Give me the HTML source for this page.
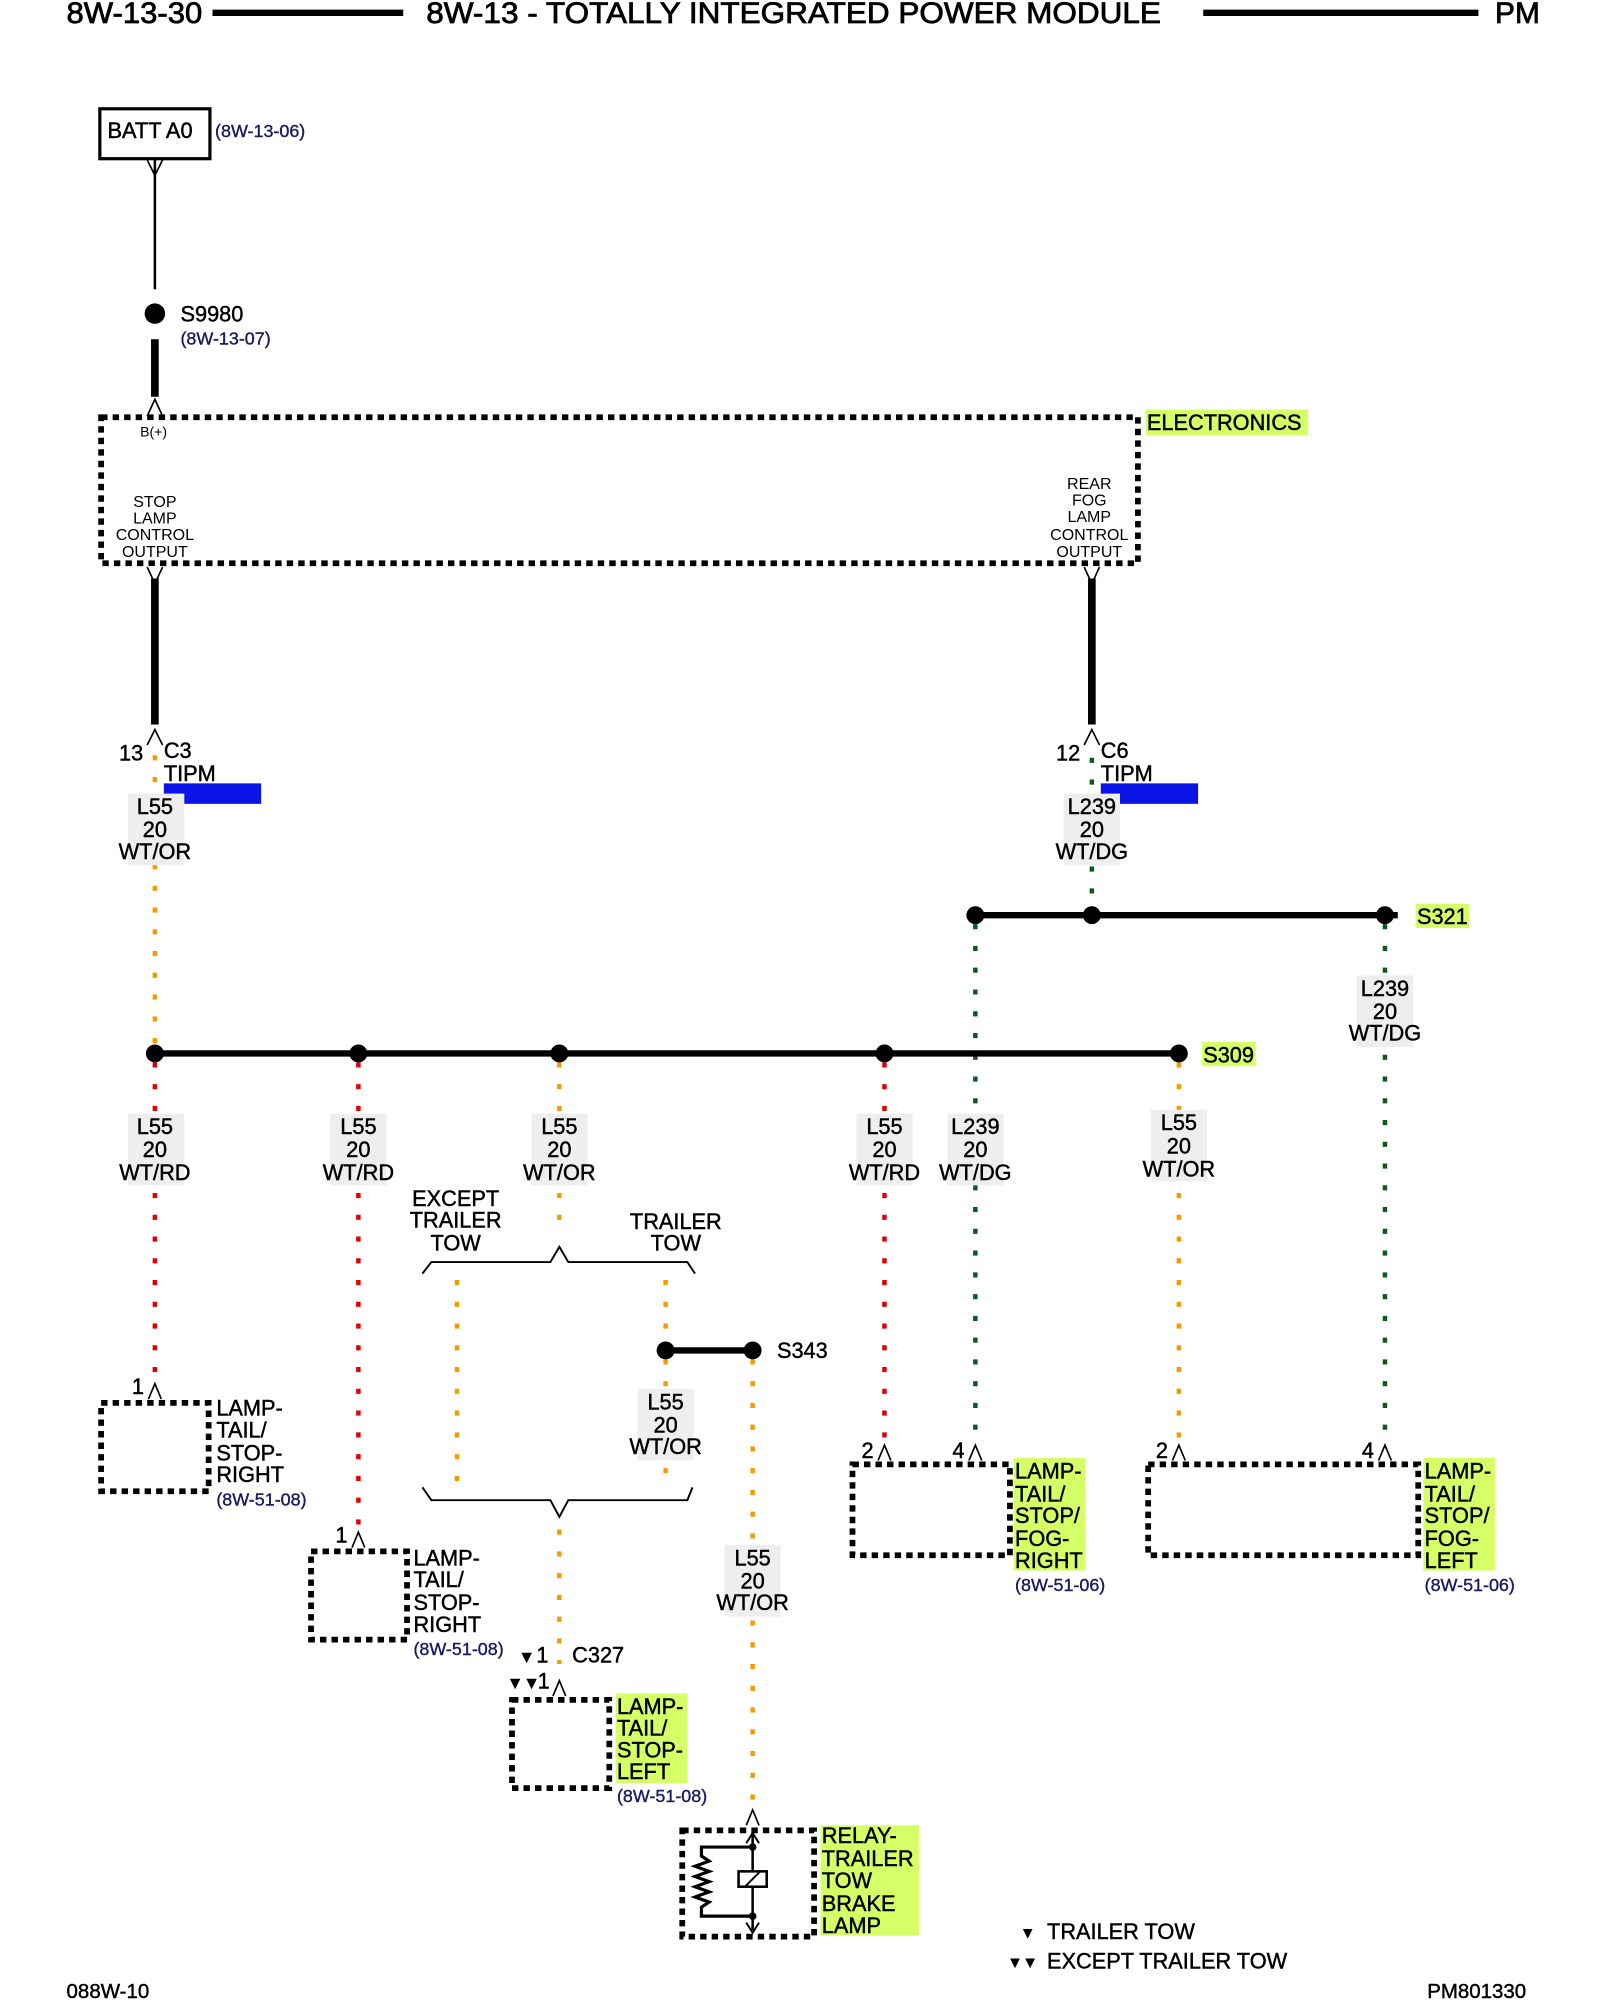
<!DOCTYPE html>
<html><head><meta charset="utf-8"><style>
html,body{margin:0;padding:0;background:#fff;}
svg{display:block;}
text{font-family:"Liberation Sans Narrow","Liberation Sans",sans-serif;fill:#000;}
.w{font-size:17px;text-anchor:middle;stroke:#000;stroke-width:0.35;}
.s{font-size:12.5px;text-anchor:middle;font-family:"Liberation Sans",sans-serif;}
.b{font-size:17px;stroke:#000;stroke-width:0.35;}
.r{font-size:14px;fill:#1a1a5e;stroke:#1a1a5e;stroke-width:0.3;}
.or{stroke:#f59a00;stroke-width:3.5;stroke-dasharray:4 13;fill:none;}
.rd{stroke:#e00000;stroke-width:3.5;stroke-dasharray:4 13;fill:none;}
.gr{stroke:#0a5a1a;stroke-width:3.5;stroke-dasharray:4 13;fill:none;}
.box{fill:none;stroke:#000;stroke-width:4.5;stroke-dasharray:5 4;}
.con{fill:none;stroke:#000;stroke-width:1.3;}
.t{font-size:23px;stroke:#000;stroke-width:0.6;}
</style></head><body>
<svg width="1600" height="2000" viewBox="0 0 1250 1562.5" xmlns="http://www.w3.org/2000/svg">
<!-- header -->
<text x="52" y="18" class="t" textLength="106" lengthAdjust="spacingAndGlyphs">8W-13-30</text>
<line x1="166" y1="10" x2="315" y2="10" stroke="#000" stroke-width="5"/>
<text x="333" y="18" class="t" textLength="574" lengthAdjust="spacingAndGlyphs">8W-13 - TOTALLY INTEGRATED POWER MODULE</text>
<line x1="940" y1="10" x2="1155" y2="10" stroke="#000" stroke-width="5"/>
<text x="1168" y="18" class="t" textLength="35" lengthAdjust="spacingAndGlyphs">PM</text>

<!-- BATT -->
<rect x="78" y="85" width="86" height="39" fill="none" stroke="#000" stroke-width="2.5"/>
<text x="84" y="108" class="b">BATT A0</text>
<text x="168" y="107" class="r">(8W-13-06)</text>
<path class="con" d="M115 125 L121 137 L127 125"/>
<line x1="121" y1="125" x2="121" y2="226" stroke="#000" stroke-width="2"/>
<circle cx="121" cy="245" r="8"/>
<text x="141" y="251" class="b">S9980</text>
<text x="141" y="269" class="r">(8W-13-07)</text>
<line x1="121" y1="265" x2="121" y2="310" stroke="#000" stroke-width="6"/>
<path class="con" d="M115 325 L121 312 L127 325"/>

<!-- electronics -->
<rect x="79" y="326" width="810" height="114" class="box" stroke-width="5"/>
<rect x="895" y="320" width="127" height="20" fill="#d4ff66"/>
<text x="896" y="336" class="b">ELECTRONICS</text>
<text x="120" y="341" class="s" style="font-size:11px">B(+)</text>
<text x="121" y="396" class="s">STOP</text>
<text x="121" y="409" class="s">LAMP</text>
<text x="121" y="422" class="s">CONTROL</text>
<text x="121" y="435" class="s">OUTPUT</text>
<text x="851" y="382" class="s">REAR</text>
<text x="851" y="395" class="s">FOG</text>
<text x="851" y="408" class="s">LAMP</text>
<text x="851" y="422" class="s">CONTROL</text>
<text x="851" y="435" class="s">OUTPUT</text>
<path class="con" d="M115 443 L121 456 L127 443"/>
<path class="con" d="M847 443 L853 456 L859 443"/>
<line x1="121" y1="452" x2="121" y2="566" stroke="#000" stroke-width="6"/>
<line x1="853" y1="452" x2="853" y2="566" stroke="#000" stroke-width="6"/>

<!-- C3 / C6 -->
<path class="con" d="M115 582 L121 570 L127 582"/>
<path class="con" d="M847 582 L853 570 L859 582"/>
<text x="93" y="594" class="b">13</text><text x="128" y="592" class="b">C3</text>
<text x="128" y="610" class="b">TIPM</text>
<rect x="128" y="612" width="76" height="16" fill="#0a14e6"/>
<text x="825" y="594" class="b">12</text><text x="860" y="592" class="b">C6</text>
<text x="860" y="610" class="b">TIPM</text>
<rect x="860" y="612" width="76" height="16" fill="#0a14e6"/>

<!-- wires -->
<line x1="121" y1="590" x2="121" y2="815" class="or"/>
<line x1="853" y1="592" x2="853" y2="708" class="gr"/>
<line x1="762" y1="722" x2="762" y2="1128" class="gr"/>
<line x1="1082" y1="722" x2="1082" y2="1128" class="gr"/>
<line x1="121" y1="830" x2="121" y2="1075" class="rd"/>
<line x1="280" y1="830" x2="280" y2="1195" class="rd"/>
<line x1="437" y1="830" x2="437" y2="965" class="or"/>
<line x1="691" y1="830" x2="691" y2="1128" class="rd"/>
<line x1="921" y1="830" x2="921" y2="1128" class="or"/>
<line x1="357" y1="1000" x2="357" y2="1160" class="or"/>
<line x1="520" y1="1000" x2="520" y2="1048" class="or"/>
<line x1="520" y1="1062" x2="520" y2="1155" class="or"/>
<line x1="588" y1="1062" x2="588" y2="1415" class="or"/>
<line x1="437" y1="1195" x2="437" y2="1300" class="or"/>

<!-- buses -->
<line x1="762" y1="715" x2="1092" y2="715" stroke="#000" stroke-width="5"/>
<circle cx="762" cy="715" r="7"/><circle cx="853" cy="715" r="7"/><circle cx="1082" cy="715" r="7"/>
<rect x="1106" y="706" width="42" height="19" fill="#d4ff66"/>
<text x="1107" y="722" class="b">S321</text>
<line x1="121" y1="823" x2="921" y2="823" stroke="#000" stroke-width="5"/>
<circle cx="121" cy="823" r="7"/><circle cx="280" cy="823" r="7"/><circle cx="437" cy="823" r="7"/><circle cx="691" cy="823" r="7"/><circle cx="921" cy="823" r="7"/>
<rect x="939" y="814" width="42" height="19" fill="#d4ff66"/>
<text x="940" y="830" class="b">S309</text>
<line x1="520" y1="1055" x2="588" y2="1055" stroke="#000" stroke-width="5"/>
<circle cx="520" cy="1055" r="7"/><circle cx="588" cy="1055" r="7"/>
<text x="607" y="1061" class="b">S343</text>

<!-- wire labels -->
<g>
<rect x="100" y="620" width="44" height="56" fill="#eee"/>
<text x="121" y="636" class="w">L55</text><text x="121" y="654" class="w">20</text><text x="121" y="671" class="w">WT/OR</text>
<rect x="831" y="620" width="44" height="56" fill="#eee"/>
<text x="853" y="636" class="w">L239</text><text x="853" y="654" class="w">20</text><text x="853" y="671" class="w">WT/DG</text>
<rect x="1060" y="762" width="44" height="56" fill="#eee"/>
<text x="1082" y="778" class="w">L239</text><text x="1082" y="796" class="w">20</text><text x="1082" y="813" class="w">WT/DG</text>
</g>
<g>
<rect x="100" y="870" width="44" height="56" fill="#eee"/>
<text x="121" y="886" class="w">L55</text><text x="121" y="904" class="w">20</text><text x="121" y="922" class="w">WT/RD</text>
<rect x="258" y="870" width="44" height="56" fill="#eee"/>
<text x="280" y="886" class="w">L55</text><text x="280" y="904" class="w">20</text><text x="280" y="922" class="w">WT/RD</text>
<rect x="415" y="870" width="44" height="56" fill="#eee"/>
<text x="437" y="886" class="w">L55</text><text x="437" y="904" class="w">20</text><text x="437" y="922" class="w">WT/OR</text>
<rect x="669" y="870" width="44" height="56" fill="#eee"/>
<text x="691" y="886" class="w">L55</text><text x="691" y="904" class="w">20</text><text x="691" y="922" class="w">WT/RD</text>
<rect x="740" y="870" width="44" height="56" fill="#eee"/>
<text x="762" y="886" class="w">L239</text><text x="762" y="904" class="w">20</text><text x="762" y="922" class="w">WT/DG</text>
<rect x="899" y="867" width="44" height="56" fill="#eee"/>
<text x="921" y="883" class="w">L55</text><text x="921" y="901" class="w">20</text><text x="921" y="919" class="w">WT/OR</text>
<rect x="498" y="1085" width="44" height="56" fill="#eee"/>
<text x="520" y="1101" class="w">L55</text><text x="520" y="1119" class="w">20</text><text x="520" y="1136" class="w">WT/OR</text>
<rect x="566" y="1207" width="44" height="56" fill="#eee"/>
<text x="588" y="1223" class="w">L55</text><text x="588" y="1241" class="w">20</text><text x="588" y="1258" class="w">WT/OR</text>
</g>

<!-- braces -->
<text x="356" y="942" class="w">EXCEPT</text><text x="356" y="959" class="w">TRAILER</text><text x="356" y="977" class="w">TOW</text>
<text x="528" y="960" class="w">TRAILER</text><text x="528" y="977" class="w">TOW</text>
<path d="M330 995 L337 986 L430 986 L437 974 L444 986 L537 986 L543 995" fill="none" stroke="#000" stroke-width="1.5"/>
<path d="M330 1162 L337 1172 L430 1172 L437 1185 L444 1172 L537 1172 L541 1162" fill="none" stroke="#000" stroke-width="1.5"/>

<!-- box 1 -->
<text x="103" y="1089" class="b">1</text><path class="con" d="M116 1093 L121 1081 L126 1093"/>
<rect x="79" y="1096" width="84" height="69" class="box"/>
<text x="169" y="1106" class="b">LAMP-</text><text x="169" y="1123" class="b">TAIL/</text><text x="169" y="1141" class="b">STOP-</text><text x="169" y="1158" class="b">RIGHT</text>
<text x="169" y="1176" class="r">(8W-51-08)</text>
<!-- box 2 -->
<text x="262" y="1205" class="b">1</text><path class="con" d="M275 1209 L280 1197 L285 1209"/>
<rect x="243" y="1212" width="75" height="69" class="box"/>
<text x="323" y="1223" class="b">LAMP-</text><text x="323" y="1240" class="b">TAIL/</text><text x="323" y="1258" class="b">STOP-</text><text x="323" y="1275" class="b">RIGHT</text>
<text x="323" y="1293" class="r">(8W-51-08)</text>
<!-- C327 -->
<text x="405" y="1299" class="b" style="font-size:13px">▼</text><text x="419" y="1299" class="b">1</text>
<text x="447" y="1299" class="b">C327</text>
<text x="396" y="1319" class="b" style="font-size:13px">▼▼</text><text x="420" y="1319" class="b">1</text>
<path class="con" d="M432 1325 L437 1313 L442 1325"/>
<!-- box 5 -->
<rect x="400" y="1328" width="76" height="69" class="box"/>
<rect x="481" y="1323" width="56" height="70" fill="#d4ff66"/>
<text x="482" y="1339" class="b">LAMP-</text><text x="482" y="1356" class="b">TAIL/</text><text x="482" y="1373" class="b">STOP-</text><text x="482" y="1390" class="b">LEFT</text>
<text x="482" y="1408" class="r">(8W-51-08)</text>
<!-- box 3 -->
<text x="673" y="1139" class="b">2</text><path class="con" d="M686 1141 L691 1129 L696 1141"/>
<text x="744" y="1139" class="b">4</text><path class="con" d="M757 1141 L762 1129 L767 1141"/>
<rect x="666" y="1144" width="123" height="71" class="box"/>
<rect x="792" y="1139" width="56" height="88" fill="#d4ff66"/>
<text x="793" y="1155" class="b">LAMP-</text><text x="793" y="1173" class="b">TAIL/</text><text x="793" y="1190" class="b">STOP/</text><text x="793" y="1208" class="b">FOG-</text><text x="793" y="1225" class="b">RIGHT</text>
<text x="793" y="1243" class="r">(8W-51-06)</text>
<!-- box 4 -->
<text x="903" y="1139" class="b">2</text><path class="con" d="M916 1141 L921 1129 L926 1141"/>
<text x="1064" y="1139" class="b">4</text><path class="con" d="M1077 1141 L1082 1129 L1087 1141"/>
<rect x="897" y="1144" width="211" height="71" class="box"/>
<rect x="1112" y="1139" width="56" height="88" fill="#d4ff66"/>
<text x="1113" y="1155" class="b">LAMP-</text><text x="1113" y="1173" class="b">TAIL/</text><text x="1113" y="1190" class="b">STOP/</text><text x="1113" y="1208" class="b">FOG-</text><text x="1113" y="1225" class="b">LEFT</text>
<text x="1113" y="1243" class="r">(8W-51-06)</text>

<!-- relay -->
<path class="con" d="M583 1426 L588 1414 L593 1426"/>
<rect x="533" y="1430" width="103" height="83" class="box"/>
<line x1="588" y1="1432" x2="588" y2="1508" stroke="#000" stroke-width="2"/>
<path d="M583 1440 L588 1432 L593 1440 M583 1502 L588 1510 L593 1502" fill="none" stroke="#000" stroke-width="1.5"/>
<rect x="577" y="1462" width="22" height="12" fill="#fff" stroke="#000" stroke-width="2"/>
<line x1="582" y1="1474" x2="594" y2="1462" stroke="#000" stroke-width="1.5"/>
<path d="M588 1443 L548 1443 L548 1450 L554 1454 L543 1458 L554 1462 L543 1466 L554 1470 L543 1474 L554 1478 L543 1482 L554 1486 L548 1490 L548 1497 L588 1497" fill="none" stroke="#000" stroke-width="2.5"/>
<circle cx="588" cy="1443" r="3"/><circle cx="588" cy="1497" r="3"/>
<rect x="641" y="1426" width="77" height="86" fill="#d4ff66"/>
<text x="642" y="1440" class="b">RELAY-</text><text x="642" y="1458" class="b">TRAILER</text><text x="642" y="1475" class="b">TOW</text><text x="642" y="1493" class="b">BRAKE</text><text x="642" y="1510" class="b">LAMP</text>

<!-- legend -->
<text x="797" y="1514" class="b" style="font-size:12px">▼</text><text x="818" y="1515" class="b">TRAILER TOW</text>
<text x="787" y="1537" class="b" style="font-size:12px">▼▼</text><text x="818" y="1538" class="b">EXCEPT TRAILER TOW</text>
<text x="52" y="1561" class="b" style="font-size:16px">088W-10</text>
<text x="1115" y="1561" class="b" style="font-size:16px">PM801330</text>
</svg>
</body></html>
